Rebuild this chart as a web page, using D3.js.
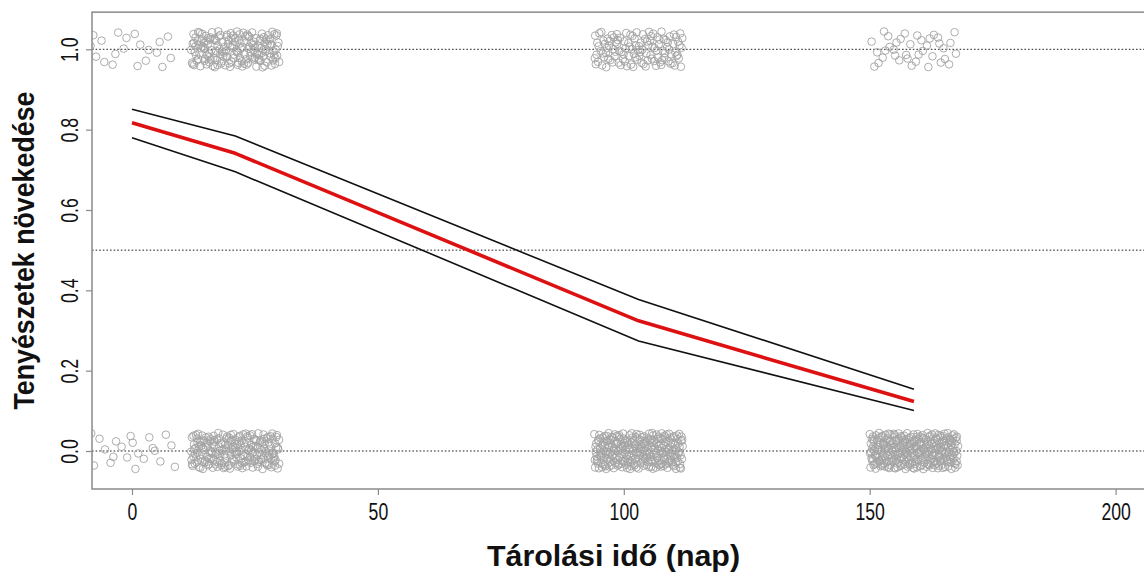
<!DOCTYPE html>
<html>
<head>
<meta charset="utf-8">
<script src="https://cdn.jsdelivr.net/npm/d3@7"></script>
<style>
  html, body { margin: 0; padding: 0; background: #fff; }
  svg { display: block; }
</style>
</head>
<body>
<svg id="chart" width="1144" height="577"></svg>
<script>
// ---------------- data ----------------
// storage time groups (days) at which cultures were tested
const groupDays = [0, 21, 103, 159];
// number of cultures showing growth (y = 1) and no growth (y = 0) per group
const growthCounts   = [20, 170, 120, 38];
const noGrowthCounts = [22, 210, 260, 290];
// fitted probability of growth (red) and its confidence band (black)
const fitX     = [0, 21, 103, 159];
const fitMean  = [0.817, 0.741, 0.324, 0.123];
const fitUpper = [0.851, 0.784, 0.377, 0.154];
const fitLower = [0.780, 0.695, 0.274, 0.101];
// reference lines and tick labels
const refLines = [0, 0.5, 1];
const xTicks = [0, 50, 100, 150, 200];
const yTicks = [0, 0.2, 0.4, 0.6, 0.8, 1.0];
const xLabel = "Tárolási idő (nap)";
const yLabel = "Tenyészetek növekedése";

// jitter amounts as used in the display (R jitter())
const jitterX = 9, jitterY = 0.045;

// ---------------- scales ----------------
const x = d3.scaleLinear().domain([0, 200]).range([132, 1115.6]);
const y = d3.scaleLinear().domain([0, 1]).range([451, 49.3]);
const xMin = -8.13, xMax = 208;
const yMin = -0.0946, yMax = 1.0925;

const svg = d3.select("#chart");
const plotL = x(xMin), plotR = x(xMax), plotT = y(yMax), plotB = y(yMin);

svg.append("defs").append("clipPath").attr("id", "clip")
  .append("rect").attr("x", plotL).attr("y", plotT)
  .attr("width", plotR - plotL).attr("height", plotB - plotT);

// deterministic low-discrepancy jitter (Halton sequence)
function halton(i, b) {
  let f = 1, r = 0;
  while (i > 0) { f /= b; r += f * (i % b); i = Math.floor(i / b); }
  return r;
}
const points = [];
groupDays.forEach((d, g) => {
  [[1, growthCounts[g]], [0, noGrowthCounts[g]]].forEach(([val, n], k) => {
    for (let i = 1; i <= n; i++) {
      const off = 7 + g * 131 + k * 53;
      points.push({
        x: d + (halton(i + off, 2) * 2 - 1) * jitterX,
        y: val + (halton(i + off, 3) * 2 - 1) * jitterY
      });
    }
  });
});

const gClip = svg.append("g").attr("clip-path", "url(#clip)");

// reference dotted lines
gClip.selectAll("line.ref").data(refLines).enter().append("line")
  .attr("class", "ref")
  .attr("x1", plotL).attr("x2", plotR)
  .attr("y1", d => y(d)).attr("y2", d => y(d))
  .attr("stroke", "#222").attr("stroke-width", 1)
  .attr("stroke-dasharray", "1.6,2");

// jittered points
gClip.selectAll("circle").data(points).enter().append("circle")
  .attr("cx", d => x(d.x)).attr("cy", d => y(d.y)).attr("r", 3.8)
  .attr("fill", "none").attr("stroke", "#a3a3a3").attr("stroke-width", 0.9);

// fitted curves
const line = d3.line().x(d => x(d[0])).y(d => y(d[1]));
const band = [fitUpper, fitLower];
band.forEach(arr => {
  gClip.append("path").datum(fitX.map((v, i) => [v, arr[i]]))
    .attr("d", line).attr("fill", "none")
    .attr("stroke", "#111").attr("stroke-width", 1.6);
});
gClip.append("path").datum(fitX.map((v, i) => [v, fitMean[i]]))
  .attr("d", line).attr("fill", "none")
  .attr("stroke", "#dd1111").attr("stroke-width", 3.6)
  .attr("stroke-linejoin", "round");

// frame
svg.append("rect").attr("x", plotL).attr("y", plotT)
  .attr("width", plotR - plotL).attr("height", plotB - plotT)
  .attr("fill", "none").attr("stroke", "#8a8a8a").attr("stroke-width", 1.5);

// axes
const tickFont = "'Liberation Sans', Arial, sans-serif";
const labelLen = s => s.replace(/[^0-9]/g, "").length * 9.8 + (s.includes(".") ? 5 : 0);
const xAxis = svg.append("g").attr("transform", `translate(0,${plotB})`)
  .call(d3.axisBottom(x).tickValues(xTicks).tickSize(6).tickSizeOuter(0).tickFormat(d3.format("d")));
xAxis.select(".domain").remove();
xAxis.selectAll(".tick line").attr("stroke", "#8a8a8a").attr("stroke-width", 1.2);
xAxis.selectAll(".tick text").attr("font-family", tickFont).attr("font-size", 23)
  .attr("fill", "#111").attr("dy", 0).attr("y", 31)
  .attr("textLength", function () { return labelLen(this.textContent); })
  .attr("lengthAdjust", "spacingAndGlyphs");

const yAxis = svg.append("g").attr("transform", `translate(${plotL},0)`)
  .call(d3.axisLeft(y).tickValues(yTicks).tickSize(6).tickSizeOuter(0).tickFormat(d3.format(".1f")));
yAxis.select(".domain").remove();
yAxis.selectAll(".tick line").attr("stroke", "#8a8a8a").attr("stroke-width", 1.2);
yAxis.selectAll(".tick text").attr("font-family", tickFont).attr("font-size", 23)
  .attr("fill", "#111")
  .attr("x", null).attr("dy", null)
  .attr("text-anchor", "middle")
  .attr("transform", "translate(-14,0) rotate(-90)")
  .attr("textLength", function () { return labelLen(this.textContent); })
  .attr("lengthAdjust", "spacingAndGlyphs");

// axis titles
svg.append("text").text(xLabel)
  .attr("x", (plotL + 1135) / 2).attr("y", 566)
  .attr("text-anchor", "middle")
  .attr("font-family", "'Liberation Sans', Arial, sans-serif")
  .attr("font-weight", "bold").attr("font-size", 29).attr("fill", "#111")
  .attr("textLength", 253).attr("lengthAdjust", "spacingAndGlyphs");

svg.append("text").text(yLabel)
  .attr("transform", `translate(34,${(plotT + plotB) / 2}) rotate(-90)`)
  .attr("text-anchor", "middle")
  .attr("font-family", "'Liberation Sans', Arial, sans-serif")
  .attr("font-weight", "bold").attr("font-size", 29).attr("fill", "#111")
  .attr("textLength", 318).attr("lengthAdjust", "spacingAndGlyphs");
</script>
</body>
</html>
